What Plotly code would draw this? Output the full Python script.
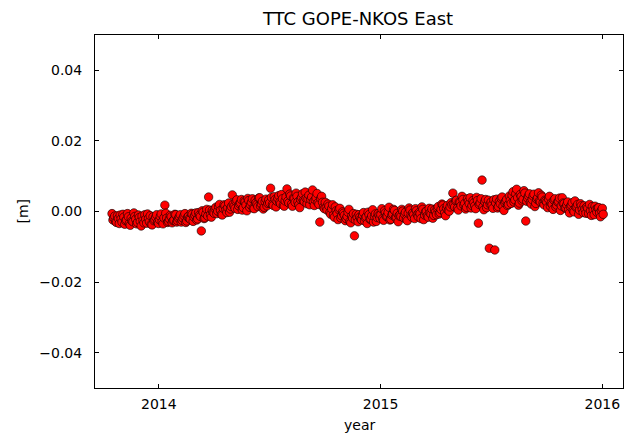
import pandas as pd
import plotly.graph_objects as go

# East component of the GOPE-NKOS baseline, in millimetres.
# Two interleaved solution streams, each sampled every 3 days.
start_a = "2013-10-16"
start_b = "2013-10-17 12:00"
step = "3D"

east_mm_a = [
    # Oct 2013
    -0.6, -1.8, -2.9, -1.2, -3.4,
    # Nov 2013
    -2.1, -0.8, -3.6, -2.4, -1.5, -3.9, -2.7, -0.4, -2.2, -3.1,
    # Dec 2013
    -1.7, -4.1, -2.5, -0.9, -3.3, -2.0, -1.2, -3.8, -2.6, -1.6, -3.0,
    # Jan 2014
    -2.3, -0.7, -3.5, 1.8, -1.9, -2.8, -1.1, -3.2, -2.4, -0.9,
    # Feb 2014
    -2.6, -1.5, -3.0, -1.9, -0.6, -2.7, -1.3, -2.2, -0.8,
    # Mar 2014
    -1.6, -0.4, -2.1, -1.0, -5.5, -0.2, -1.8, 0.6, 4.1, -0.9, 0.3,
    # Apr 2014
    -0.5, 1.2, 0.1, 2.0, -0.8, 0.9, 1.6, -0.3, 2.4, 0.7,
    # May 2014
    4.7, 1.5, 2.9, 0.6, 2.2, 3.4, 1.1, 2.7, 0.2, 3.1,
    # Jun 2014
    1.9, 3.6, 0.8, 2.5, 1.4, 3.9, 2.1, 0.7, 2.8, 1.6,
    # Jul 2014
    3.3, 6.6, 2.0, 4.2, 1.3, 3.7, 2.6, 4.8, 1.8, 3.0,
    # Aug 2014
    6.4, 2.4, 4.4, 1.5, 3.6, 5.2, 2.7, 1.1, 4.0, 3.1, 5.5,
    # Sep 2014
    2.2, 4.6, 3.4, 6.1, 1.7, 3.9, 2.5, -3.0, 4.3, 1.2,
    # Oct 2014
    2.6, 0.4, 1.5, -0.8, 1.9, -1.6, 0.2, -2.3, 0.9, -1.2,
    # Nov 2014
    -0.5, -2.6, -1.4, 0.6, -3.2, -1.9, -6.9, -0.8, -2.9, -1.6,
    # Dec 2014
    -2.4, -0.3, -1.8, -3.4, -0.9, -2.1, 0.5, -1.4, -2.8, -0.6,
    # Jan 2015
    -1.9, 0.8, -2.5, -0.4, -1.3, 1.2, -2.2, -0.7, 0.3, -1.6, -2.9,
    # Feb 2015
    -0.9, 0.6, -1.8, -0.2, -2.6, 1.0, -1.1, -0.4, -2.0,
    # Mar 2015
    0.2, -1.5, -0.6, 1.3, -2.3, -0.1, -1.2, 0.9, -0.8, -1.9,
    # Apr 2015
    0.5, -0.9, 1.4, -0.3, 2.1, 0.8, -1.2, 1.7, 0.1, 2.5,
    # May 2015
    5.2, 1.3, 3.2, 0.4, 2.6, 4.3, 1.8, 0.7, 3.6, 2.2, 1.0,
    # Jun 2015
    3.1, 1.6, 4.0, -3.3, 2.4, 8.9, 0.5, 3.4, 1.9, -10.4,
    # Jul 2015
    2.7, 0.9, -10.9, 3.5, 1.4, 2.2, 4.1, 0.3, 2.9, 1.7,
    # Aug 2015
    4.4, 2.3, 5.6, 3.3, 6.3, 1.8, 4.8, 3.0, 5.9, -2.7,
    # Sep 2015
    3.8, 5.0, 2.1, 4.4, 1.4, 3.5, 5.3, 2.7, 4.1, 1.9,
    # Oct 2015
    3.0, 1.1, 4.3, 2.4, 0.6, 3.6, 1.8, 2.9, 0.3, 3.9, 2.2,
    # Nov 2015
    1.0, 2.7, -0.4, 1.8, 0.3, 3.0, 1.4, -0.8, 2.2, 0.6,
    # Dec 2015
    1.6, -0.5, 0.9, 2.0, -1.1, 0.4, 1.5, -0.2, 1.1, -1.5, 0.9,
]

east_mm_b = [
    # Oct 2013
    -2.4, -1.3, -3.1, -2.0, -1.0,
    # Nov 2013
    -3.0, -1.6, -2.6, -0.6, -3.4, -1.9, -2.9, -1.4, -3.5, -1.0,
    # Dec 2013
    -2.8, -1.3, -3.2, -2.2, -0.7, -2.9, -3.6, -1.5, -2.3, -0.9, -3.4,
    # Jan 2014
    -1.4, -2.9, -1.8, -0.5, -3.1, -2.1, -1.5, -2.6, -0.8, -3.0,
    # Feb 2014
    -1.9, -0.9, -2.5, -1.2, -3.1, -1.6, -2.0, -0.5, -2.8,
    # Mar 2014
    -1.1, -2.4, -0.3, -1.4, 0.2, -2.0, -0.7, -1.3, 0.4, -1.6, -0.2,
    # Apr 2014
    0.8, -0.6, 1.5, 0.3, -1.0, 1.9, 0.5, 1.1, -0.2, 1.4,
    # May 2014
    2.1, 0.9, 3.3, 1.6, 2.5, 0.4, 3.0, 1.8, 3.7, 1.2,
    # Jun 2014
    2.6, 1.0, 3.2, 2.0, 3.8, 1.5, 2.9, 1.2, 3.5, 2.3,
    # Jul 2014
    2.4, 4.0, 1.7, 3.4, 2.9, 4.5, 2.2, 3.6, 1.5, 4.1,
    # Aug 2014
    3.0, 4.9, 2.1, 3.8, 2.6, 4.3, 1.9, 3.4, 5.0, 2.8, 3.7,
    # Sep 2014
    3.6, 1.9, 4.1, 2.8, 3.3, 5.1, 2.0, 3.7, 2.6, 0.8,
    # Oct 2014
    1.2, 2.1, -0.3, 0.8, -1.0, 1.3, -0.6, 0.5, -1.8, -0.1,
    # Nov 2014
    -1.1, -2.0, -0.2, -2.8, -1.3, -0.6, -2.4, -1.7, -0.9, -2.2,
    # Dec 2014
    -1.0, -2.6, -1.5, -0.2, -2.2, -1.2, -3.0, -0.7, -1.7, -1.1,
    # Jan 2015
    -0.9, -2.0, 0.2, -1.4, -0.3, -2.4, -1.0, 0.6, -1.7, -0.5, -1.2,
    # Feb 2015
    -1.4, 0.1, -0.8, -2.2, -0.5, 0.4, -1.6, -0.9, 0.8,
    # Mar 2015
    -0.9, -0.3, -2.0, 0.6, -1.0, 0.1, -1.6, -0.4, 0.7, -1.1,
    # Apr 2015
    -0.1, 1.0, -0.7, 0.6, 1.8, -0.4, 0.9, 0.3, 1.3, 1.9,
    # May 2015
    2.0, 3.0, 0.9, 2.7, 1.6, 3.4, 2.3, 1.2, 2.9, 3.9, 1.7,
    # Jun 2015
    2.5, 0.8, 3.1, 2.0, 3.6, 1.3, 2.8, 1.1, 3.2, 2.1,
    # Jul 2015
    1.8, 3.3, 2.4, 1.0, 2.9, 3.7, 1.5, 2.5, 3.4, 2.0,
    # Aug 2015
    3.2, 4.6, 2.7, 5.0, 3.9, 2.4, 4.2, 3.5, 5.2, 2.9,
    # Sep 2015
    4.4, 2.6, 3.4, 4.9, 2.3, 3.9, 3.0, 4.6, 2.4, 3.2,
    # Oct 2015
    2.6, 3.5, 1.5, 2.0, 3.2, 1.3, 2.7, 3.8, 1.6, 2.4, 1.0,
    # Nov 2015
    1.9, 0.5, 1.4, 2.5, -0.1, 1.2, 2.0, 0.4, 1.6, -0.3,
    # Dec 2015
    0.7, 1.3, -0.6, 0.2, 1.4, -0.9, 0.6, 1.0, -0.4, 0.3, -0.8,
]

x_tick_dates = ["2014-01-01", "2015-01-01", "2016-01-01"]
x_tick_labels = ["2014", "2015", "2016"]
y_tick_values = [-0.04, -0.02, 0.00, 0.02, 0.04]

# merge both streams into one time-ordered series, converted to metres
dates_a = pd.date_range(start_a, periods=len(east_mm_a), freq=step)
dates_b = pd.date_range(start_b, periods=len(east_mm_b), freq=step)
series = pd.concat([
    pd.Series(east_mm_a, index=dates_a),
    pd.Series(east_mm_b, index=dates_b),
]).sort_index()
east_m = (series / 1000.0).tolist()
dates = series.index

FONT = "DejaVu Sans"

fig = go.Figure()
fig.add_trace(go.Scatter(
    x=dates, y=east_m, mode="markers",
    marker=dict(color="#ff0000", size=8.5, line=dict(color="black", width=0.6)),
    showlegend=False,
))

axis_common = dict(
    showline=True, linecolor="black", linewidth=1, mirror="allticks",
    ticks="inside", ticklen=4, tickwidth=1, tickcolor="black",
    showgrid=False, zeroline=False,
    tickfont=dict(family=FONT, size=14, color="black"),
)

fig.update_layout(
    width=636, height=437,
    margin=dict(l=95, r=13, t=35, b=49),
    paper_bgcolor="white", plot_bgcolor="white",
    font=dict(family=FONT, size=14, color="black"),
    title=dict(text="TTC GOPE-NKOS East", x=358 / 636, xanchor="center",
               y=1 - 19 / 437, yanchor="middle", yref="container",
               font=dict(family=FONT, size=18, color="black")),
    xaxis=dict(axis_common, range=["2013-09-18", "2016-02-04"],
               tickvals=x_tick_dates, ticktext=x_tick_labels, ticklabelstandoff=3),
    yaxis=dict(axis_common, range=[-0.05, 0.05], tickvals=y_tick_values,
               tickformat=".2f", ticklabelstandoff=9),
    annotations=[
        dict(text="year", xref="paper", yref="paper", x=0.5, y=(388 - 425) / 353,
             xanchor="center", yanchor="middle", showarrow=False,
             font=dict(family=FONT, size=14, color="black")),
        dict(text="[m]", xref="paper", yref="paper", x=(22 - 95) / 528, y=0.5,
             xanchor="center", yanchor="middle", textangle=-90, showarrow=False,
             font=dict(family=FONT, size=14, color="black")),
    ],
)

fig.write_html("out.html")
